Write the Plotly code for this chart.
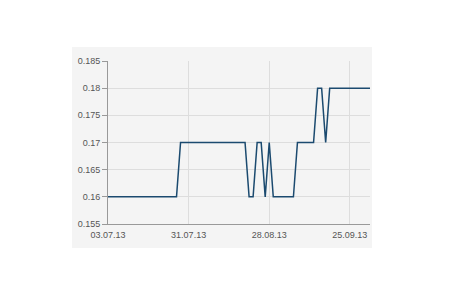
import plotly.graph_objects as go
import pandas as pd

# Business-day dates (categories)
dates = [d.strftime("%d.%m.%y") for d in pd.bdate_range("2013-07-03", "2013-10-02")]

values = [
    0.16, 0.16, 0.16, 0.16, 0.16, 0.16, 0.16, 0.16, 0.16, 0.16,
    0.16, 0.16, 0.16, 0.16, 0.16, 0.16, 0.16, 0.16, 0.17, 0.17,
    0.17, 0.17, 0.17, 0.17, 0.17, 0.17, 0.17, 0.17, 0.17, 0.17,
    0.17, 0.17, 0.17, 0.17, 0.17, 0.16, 0.16, 0.17, 0.17, 0.16,
    0.17, 0.16, 0.16, 0.16, 0.16, 0.16, 0.16, 0.17, 0.17, 0.17,
    0.17, 0.17, 0.18, 0.18, 0.17, 0.18, 0.18, 0.18, 0.18, 0.18,
    0.18, 0.18, 0.18, 0.18, 0.18, 0.18,
]

x_ticks = ["03.07.13", "31.07.13", "28.08.13", "25.09.13"]
y_ticks = [0.155, 0.16, 0.165, 0.17, 0.175, 0.18, 0.185]
y_labels = ["0.155", "0.16", "0.165", "0.17", "0.175", "0.18", "0.185"]

fig = go.Figure()
fig.add_trace(go.Scatter(
    x=dates, y=values, mode="lines",
    line=dict(color="#1b4a6f", width=1.5),
    hoverinfo="skip",
))

font = dict(family="Liberation Sans, Arial", size=9, color="#555555")

fig.update_layout(
    width=450, height=300,
    margin=dict(l=108, r=80, t=61, b=76),
    paper_bgcolor="white",
    plot_bgcolor="rgba(0,0,0,0)",
    showlegend=False,
    font=font,
    shapes=[dict(
        type="rect", xref="paper", yref="paper",
        x0=-0.1374, x1=1.0076, y0=-0.147, y1=1.086,
        fillcolor="#f4f4f4", line=dict(width=0), layer="below",
    )],
    xaxis=dict(
        type="category",
        range=[0, 65],
        tickvals=x_ticks, ticktext=x_ticks,
        showgrid=True, gridcolor="#dddddd", gridwidth=1,
        showline=True, linecolor="#999999", linewidth=1,
        ticks="outside", ticklen=2, tickcolor="rgba(0,0,0,0)",
        zeroline=False, tickfont=font,
    ),
    yaxis=dict(
        range=[0.155, 0.185],
        tickvals=y_ticks, ticktext=y_labels,
        showgrid=True, gridcolor="#dddddd", gridwidth=1,
        showline=True, linecolor="#999999", linewidth=1,
        ticks="outside", ticklen=5, tickcolor="#999999",
        zeroline=False, tickfont=font,
    ),
)

fig.write_html("out.html")
